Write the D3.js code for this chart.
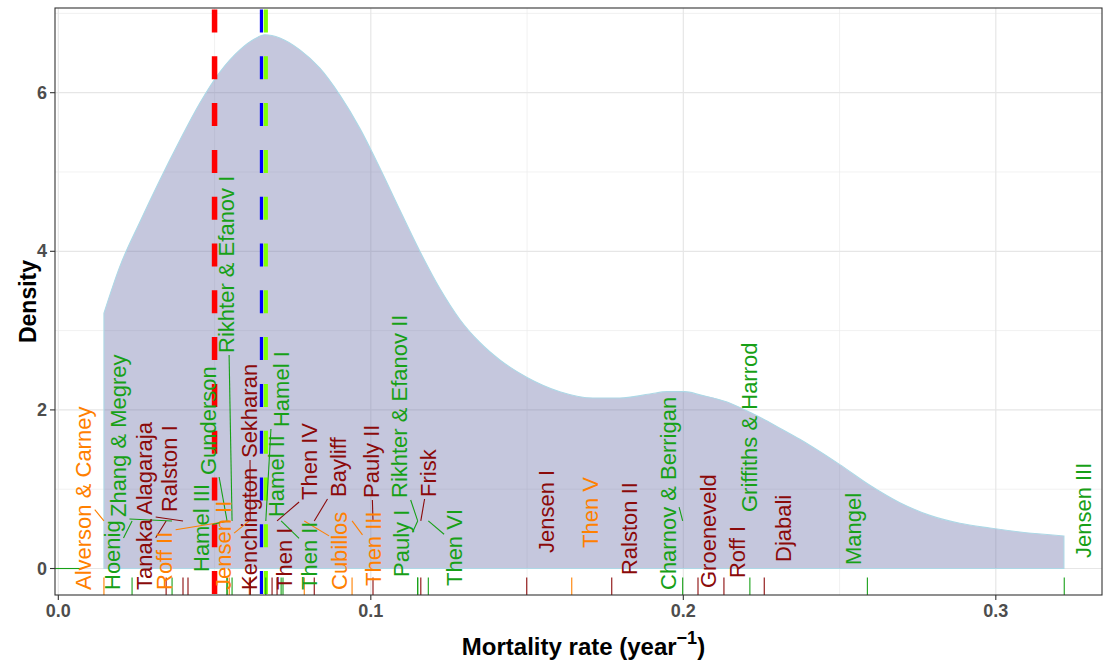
<!DOCTYPE html>
<html>
<head>
<meta charset="utf-8">
<script src="https://cdn.jsdelivr.net/npm/d3@7"></script>
<style>
  body { margin: 0; background: #fff; }
  text { font-family: "Liberation Sans", Arial, sans-serif; }
</style>
</head>
<body>
<svg id="chart" width="1103" height="667"></svg>
<script>
// Kernel density of natural mortality estimates (trimmed to the data range)
const densityX = [0.0146, 0.0197, 0.0261, 0.0325, 0.0389, 0.0453, 0.0517, 0.0581, 0.0629, 0.0661,
  0.0709, 0.0773, 0.0837, 0.0901, 0.0965, 0.1029, 0.1093, 0.1157, 0.1221, 0.1285,
  0.1349, 0.1413, 0.1500, 0.1605, 0.1711, 0.1797, 0.1893, 0.1948, 0.2005, 0.2053,
  0.2140, 0.2213, 0.2268, 0.2309, 0.2373, 0.2415, 0.2501, 0.2597, 0.2693, 0.2789,
  0.2885, 0.2981, 0.3077, 0.3218];
const densityY = [3.22, 3.81, 4.37, 4.90, 5.40, 5.87, 6.26, 6.54, 6.68, 6.73,
  6.69, 6.54, 6.31, 5.97, 5.55, 5.05, 4.52, 4.00, 3.53, 3.14,
  2.85, 2.63, 2.41, 2.23, 2.15, 2.15, 2.20, 2.23, 2.23, 2.19,
  2.10, 1.97, 1.86, 1.77, 1.63, 1.53, 1.31, 1.05, 0.83, 0.67,
  0.57, 0.51, 0.46, 0.41];

// Individual estimators: name, method group, estimate
const methodNames = ["Alverson & Carney", "Hoenig", "Zhang & Megrey", "Tanaka", "Alagaraja", "Ralston I",
  "Roff II", "Hamel III", "Gunderson", "Jensen II", "Rikhter & Efanov I", "Kenchington",
  "Sekharan", "Hamel II", "Hamel I", "Then I", "Then IV", "Then II",
  "Bayliff", "Cubillos", "Then III", "Pauly II", "Pauly I", "Rikhter & Efanov II",
  "Frisk", "Then VI", "Jensen I", "Then V", "Ralston II", "Charnov & Berrigan",
  "Groeneveld", "Roff I", "Griffiths & Harrod", "Djabali", "Mangel", "Jensen III"];
const methodGroups = ["B", "C", "C", "A", "A", "A",
  "B", "C", "C", "B", "C", "A",
  "A", "C", "C", "A", "A", "C",
  "A", "B", "B", "A", "C", "C",
  "A", "C", "A", "B", "A", "C",
  "A", "A", "C", "A", "C", "C"];
const methodValues = [0.0146, 0.0236, 0.0364, 0.0345, 0.0399, 0.0415,
  0.0547, 0.0540, 0.0540, 0.0611, 0.0556, 0.0614,
  0.0614, 0.0719, 0.0664, 0.0684, 0.0700, 0.0713,
  0.0819, 0.0787, 0.0940, 0.1007, 0.1150, 0.1150,
  0.1160, 0.1184, 0.1499, 0.1643, 0.1771, 0.1998,
  0.2047, 0.2130, 0.2213, 0.2259, 0.2589, 0.3219];

// Repelled label placement (x of label centre, density at the start of the text)
const labelX = [0.0082, 0.0174, 0.0193, 0.0277, 0.0277, 0.0357,
  0.0341, 0.0459, 0.0480, 0.0528, 0.0537, 0.0613,
  0.0613, 0.0699, 0.0715, 0.0725, 0.0805, 0.0805,
  0.0896, 0.0901, 0.1008, 0.1003, 0.1099, 0.1093,
  0.1184, 0.1269, 0.1563, 0.1704, 0.1827, 0.1952,
  0.2080, 0.2174, 0.2211, 0.2320, 0.2544, 0.3280];
const labelY = [-0.271, -0.271, 0.649, -0.271, 0.675, 0.712,
  -0.271, -0.044, 1.179, -0.271, 2.718, -0.271,
  1.393, 0.649, 1.784, -0.271, 0.864, -0.271,
  0.902, -0.271, -0.221, 0.889, -0.107, 0.889,
  0.902, -0.221, 0.195, 0.259, -0.082, -0.271,
  -0.246, -0.120, 0.712, 0.082, 0.044, 0.132];
const anchorDensity = 0.6;

const groupKeys = ["A", "B", "C"];
const groupColors = ["#8B0A0A", "#FF8000", "#17A017"];

// Summary statistics drawn as dashed reference lines
const refValues = [0.0500, 0.0650, 0.0664];
const refColors = ["#FF0000", "#0000FF", "#80FF00"];
const refWidths = [5.5, 3.2, 4.2];

const zeroSegment = [-0.00106, 0.0075];

const xTicks = [0, 0.1, 0.2, 0.3];
const xTickLabels = ["0.0", "0.1", "0.2", "0.3"];
const xMinor = [0.05, 0.15, 0.25];
const yTicks = [0, 2, 4, 6];
const yTickLabels = ["0", "2", "4", "6"];
const yMinor = [1, 3, 5, 7];

const panel = { left: 55, right: 1102, top: 8, bottom: 595 };

const svg = d3.select("#chart");
const x = d3.scaleLinear().domain([-0.00106, 0.33398]).range([panel.left, panel.right]);
const y = d3.scaleLinear().domain([-0.334, 7.068]).range([panel.bottom, panel.top]);
const color = d3.scaleOrdinal().domain(groupKeys).range(groupColors);

// grid
const grid = svg.append("g");
grid.selectAll(".gxm").data(xMinor).join("line")
  .attr("x1", d => x(d)).attr("x2", d => x(d)).attr("y1", panel.top).attr("y2", panel.bottom)
  .attr("stroke", "#ebebeb").attr("stroke-width", 0.7);
grid.selectAll(".gym").data(yMinor).join("line")
  .attr("y1", d => y(d)).attr("y2", d => y(d)).attr("x1", panel.left).attr("x2", panel.right)
  .attr("stroke", "#ebebeb").attr("stroke-width", 0.7);
grid.selectAll(".gx").data(xTicks).join("line")
  .attr("x1", d => x(d)).attr("x2", d => x(d)).attr("y1", panel.top).attr("y2", panel.bottom)
  .attr("stroke", "#e6e6e6").attr("stroke-width", 1.2);
grid.selectAll(".gy").data(yTicks).join("line")
  .attr("y1", d => y(d)).attr("y2", d => y(d)).attr("x1", panel.left).attr("x2", panel.right)
  .attr("stroke", "#e6e6e6").attr("stroke-width", 1.2);

// density area
const densityData = densityX.map((v, i) => ({ x: v, y: densityY[i] }));
const area = d3.area().x(d => x(d.x)).y0(y(0)).y1(d => y(d.y)).curve(d3.curveMonotoneX);
svg.append("path").datum(densityData).attr("d", area)
  .attr("fill", "#6e73aa").attr("fill-opacity", 0.4)
  .attr("stroke", "#add8e6").attr("stroke-width", 1.1);

// short zero-level segment at the left edge
svg.append("line")
  .attr("x1", x(zeroSegment[0])).attr("x2", x(zeroSegment[1]))
  .attr("y1", y(0)).attr("y2", y(0))
  .attr("stroke", groupColors[2]).attr("stroke-width", 1.1);

// dashed reference lines
svg.append("g").selectAll("line").data(refValues).join("line")
  .attr("x1", d => x(d)).attr("x2", d => x(d))
  .attr("y1", panel.top + 1.5).attr("y2", panel.bottom)
  .attr("stroke", (d, i) => refColors[i]).attr("stroke-width", (d, i) => refWidths[i])
  .attr("stroke-dasharray", "23 23.8");

// rug
const methods = methodNames.map((n, i) => ({
  name: n, group: methodGroups[i], value: methodValues[i], lx: labelX[i], ly: labelY[i]
}));
const rugLen = (panel.bottom - panel.top) * 0.03;
svg.append("g").selectAll("line").data(methods).join("line")
  .attr("x1", d => x(d.value)).attr("x2", d => x(d.value))
  .attr("y1", panel.bottom - rugLen).attr("y2", panel.bottom)
  .attr("stroke", d => color(d.group)).attr("stroke-width", 1.1);

// labels
const segLayer = svg.append("g");
const labelLayer = svg.append("g");
const labelSize = 22;
const minSegment = 12;
const labels = labelLayer.selectAll("text").data(methods).join("text")
  .attr("transform", d => `translate(${x(d.lx)},${y(d.ly)}) rotate(-90)`)
  .attr("text-anchor", "start")
  .attr("dominant-baseline", "central")
  .attr("font-size", labelSize)
  .attr("fill", d => color(d.group))
  .text(d => d.name);

// connection point on a label box: nearest side, nudged half-way towards its centre
function connectPoint(px, py, b) {
  let ox, oy, horiz = false, vert = false;
  if (px >= b.x1 && px <= b.x2) ox = px; else { ox = px > b.x2 ? b.x2 : b.x1; horiz = true; }
  if (py >= b.y1 && py <= b.y2) oy = py; else { oy = py > b.y2 ? b.y2 : b.y1; vert = true; }
  const mx = (b.x1 + b.x2) / 2, my = (b.y1 + b.y2) / 2;
  if (vert && !horiz) {
    const nx = (px + mx) / 2;
    if (nx >= b.x1 && nx <= b.x2) ox = nx;
  } else if (horiz && !vert) {
    const ny = (py + my) / 2;
    if (ny >= b.y1 && ny <= b.y2) oy = ny;
  }
  return [ox, oy];
}

labels.each(function (d) {
  const len = this.getComputedTextLength();
  const X = x(d.lx), Y = y(d.ly);
  const half = labelSize * 0.4 + 2;
  const box = { x1: X - half, x2: X + half, y1: Y - len - 2, y2: Y + 2 };
  const px = x(d.value), py = y(anchorDensity);
  if (px >= box.x1 && px <= box.x2 && py >= box.y1 && py <= box.y2) return;
  const [ex, ey] = connectPoint(px, py, box);
  const dist = Math.hypot(ex - px, ey - py);
  if (dist < minSegment) return;
  segLayer.append("line")
    .attr("x1", px).attr("y1", py).attr("x2", ex).attr("y2", ey)
    .attr("stroke", color(d.group)).attr("stroke-width", 1.1);
});

// panel border
svg.append("rect")
  .attr("x", panel.left).attr("y", panel.top)
  .attr("width", panel.right - panel.left).attr("height", panel.bottom - panel.top)
  .attr("fill", "none").attr("stroke", "#333333").attr("stroke-width", 1.1);

// axes
const xAxis = svg.append("g");
xAxis.selectAll("line").data(xTicks).join("line")
  .attr("x1", d => x(d)).attr("x2", d => x(d))
  .attr("y1", panel.bottom).attr("y2", panel.bottom + 5)
  .attr("stroke", "#333333").attr("stroke-width", 1.1);
xAxis.selectAll("text").data(xTicks).join("text")
  .attr("x", d => x(d)).attr("y", panel.bottom + 22)
  .attr("text-anchor", "middle").attr("font-size", 18).attr("font-weight", "bold")
  .attr("fill", "#4d4d4d")
  .text((d, i) => xTickLabels[i]);

const yAxis = svg.append("g");
yAxis.selectAll("line").data(yTicks).join("line")
  .attr("x1", panel.left - 5).attr("x2", panel.left)
  .attr("y1", d => y(d)).attr("y2", d => y(d))
  .attr("stroke", "#333333").attr("stroke-width", 1.1);
yAxis.selectAll("text").data(yTicks).join("text")
  .attr("x", panel.left - 8).attr("y", d => y(d))
  .attr("text-anchor", "end").attr("dominant-baseline", "central")
  .attr("font-size", 18).attr("font-weight", "bold").attr("fill", "#4d4d4d")
  .text((d, i) => yTickLabels[i]);

// axis titles
svg.append("text")
  .attr("transform", `translate(28,${(panel.top + panel.bottom) / 2}) rotate(-90)`)
  .attr("text-anchor", "middle").attr("dominant-baseline", "central")
  .attr("font-size", 23).attr("font-weight", "bold").attr("fill", "#000")
  .text("Density");

const xt = svg.append("text")
  .attr("x", (panel.left + panel.right) / 2 + 5).attr("y", 655)
  .attr("text-anchor", "middle")
  .attr("font-size", 24).attr("font-weight", "bold").attr("fill", "#000");
xt.append("tspan").text("Mortality rate (year");
xt.append("tspan").attr("dy", -11).attr("font-size", 18).text("\u22121");
xt.append("tspan").attr("dy", 11).text(")");
</script>
</body>
</html>
